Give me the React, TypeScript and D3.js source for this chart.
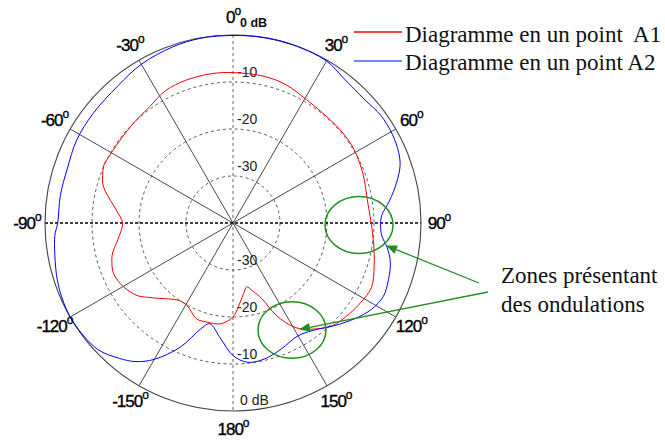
import React from "react";
import * as d3 from "d3";

// ---- Data (angle in degrees clockwise from top, level in dB) ----
const A1_ANGLES = [0, 12, 21, 30, 39, 48, 57, 65, 72, 80, 90, 98, 107, 115, 122, 128, 136, 142, 149, 155, 159, 164, 168, 171, 175, 180, 187, 195, 201, 209, 215, 224, 229, 233, 240, 247, 252, 256, 262, 270, 276, 284, 287, 290, 294, 297, 306, 315, 324, 333, 342, 352];
const A1_DB = [-8.0, -8.1, -8.5, -9.4, -9.8, -9.8, -9.8, -10.2, -10.6, -11.0, -10.6, -9.8, -8.6, -7.5, -8.0, -8.6, -9.6, -11.4, -14.0, -18.4, -22.7, -25.0, -26.1, -25.0, -23.0, -20.0, -18.4, -18.2, -18.2, -19.9, -19.9, -17.7, -15.9, -14.4, -13.0, -12.4, -12.9, -13.6, -15.3, -16.5, -15.1, -12.0, -11.0, -10.5, -9.9, -10.0, -10.2, -10.0, -9.6, -8.4, -8.0, -7.9];

const A2_ANGLES = [0, 10, 20, 30, 38, 47, 54, 61, 67, 71, 76, 82, 87, 91, 95, 99, 104, 110, 116, 122, 128, 135, 141, 150, 159, 167, 174, 180, 186, 193, 197, 203, 210, 215, 220, 227, 238, 245, 252, 260, 266, 270, 279, 288, 298, 308, 320, 330, 341, 350];
const A2_DB = [-0.1, 0, 0, -0.2, -1.3, -1.6, -1.1, -1.2, -1.7, -2.4, -4.1, -6.4, -8.3, -8.6, -8.2, -6.8, -5.5, -4.8, -4.4, -5.3, -7.0, -9.2, -11.0, -12.3, -11.3, -10.3, -10.2, -11.8, -15.2, -18.0, -16.4, -11.3, -6.5, -4.0, -2.4, -0.6, 0, -0.2, -0.7, -1.5, -2.0, -2.7, -2.8, -2.9, -2.35, -2.2, -1.9, -1.0, -0.4, -0.1];

const RING_DB = [-10, -20, -30];
const RING_LABELS = ["-10", "-20", "-30"];
const SPOKE_ANGLES = [0, 30, 60, 90, 120, 150, 180, 210, 240, 270, 300, 330];
const SPOKE_LABELS = ["0", "30", "60", "90", "120", "150", "180", "-150", "-120", "-90", "-60", "-30"];
const DB_DOMAIN = [-40, 0];
const LEGEND = ["Diagramme en un point  A1", "Diagramme en un point A2"];
const NOTE = ["Zones présentant", "des ondulations"];

const W = 665;
const H = 441;
const CX = 233;
const CY = 223;
const R = 188;

const toRad = (d: number) => (d * Math.PI) / 180;

export default function App() {
  const r = d3.scaleLinear().domain(DB_DOMAIN).range([0, R]).clamp(true);
  const pt = (deg: number, rad: number): [number, number] => [
    CX + rad * Math.sin(toRad(deg)),
    CY - rad * Math.cos(toRad(deg)),
  ];
  const line = d3
    .lineRadial<[number, number]>()
    .angle((d) => toRad(d[0]))
    .radius((d) => r(d[1]))
    .curve(d3.curveCatmullRomClosed.alpha(0.5));
  const a1 = A1_ANGLES.map((a, i) => [a, A1_DB[i]] as [number, number]);
  const a2 = A2_ANGLES.map((a, i) => [a, A2_DB[i]] as [number, number]);

  const green = "#1f8f1f";
  const sans = "Liberation Sans, Arial, sans-serif";
  const serif = "Liberation Serif";

  const arrows = [
    { x1: 479, y1: 283, x2: 386, y2: 245.5 },
    { x1: 488, y1: 292, x2: 299, y2: 329.5 },
  ];

  return (
    <svg
      width={W}
      height={H}
      style={{ position: "absolute", left: 0, top: 0, background: "#fff" }}
    >
      <rect x={0} y={0} width={W} height={H} fill="#fff" />
      {RING_DB.map((db) => (
        <circle
          key={db}
          cx={CX}
          cy={CY}
          r={r(db)}
          fill="none"
          stroke="#444"
          strokeWidth={0.9}
          strokeDasharray="3,3"
        />
      ))}
      {SPOKE_ANGLES.filter((a) => a % 90 !== 0).map((a) => {
        const [x, y] = pt(a, R);
        return <line key={a} x1={CX} y1={CY} x2={x} y2={y} stroke="#333" strokeWidth={0.9} />;
      })}
      <line x1={CX} y1={CY - R} x2={CX} y2={CY + R} stroke="#666" strokeWidth={1} strokeDasharray="3,3" />
      <line x1={CX - R} y1={CY} x2={CX + R} y2={CY} stroke="#000" strokeWidth={1.3} strokeDasharray="3,2" />
      <circle cx={CX} cy={CY} r={R} fill="none" stroke="#444" strokeWidth={1.1} />

      {RING_DB.map((db, i) => (
        <g key={"rl" + db} fontFamily={sans} fontSize={14} fill="#222">
          <text x={CX + 4} y={CY - r(db) - 5}>{RING_LABELS[i]}</text>
          <text x={CX + 4} y={CY + r(db) - 5}>{RING_LABELS[i]}</text>
        </g>
      ))}
      <text x={CX + 7} y={CY - R - 8} fontFamily={sans} fontSize={12.5} fontWeight="bold" fill="#111">0 dB</text>
      <text x={CX + 7} y={CY + R - 6} fontFamily={sans} fontSize={14} fill="#222">0 dB</text>

      <path d={line(a1) || ""} transform={`translate(${CX},${CY})`} fill="none" stroke="#ff0000" strokeWidth={1} />
      <path d={line(a2) || ""} transform={`translate(${CX},${CY})`} fill="none" stroke="#0000ff" strokeWidth={1} />

      {SPOKE_ANGLES.map((a, i) => {
        const [x, y] = pt(a, R + 18);
        return (
          <text
            key={"al" + a}
            x={x}
            y={y + 6}
            textAnchor="middle"
            fontFamily={sans}
            fontSize={17}
            letterSpacing={-1}
            fill="#000"
            stroke="#000"
            strokeWidth={0.35}
          >
            {SPOKE_LABELS[i]}
            <tspan fontSize={12} dy={-8}>o</tspan>
          </text>
        );
      })}

      <line x1={354} y1={32} x2={402} y2={32} stroke="#ff0000" strokeWidth={1.5} />
      <line x1={354} y1={61} x2={402} y2={61} stroke="#4060ff" strokeWidth={1.5} />
      <text x={405} y={42} fontFamily={serif} fontSize={23} fill="#111" xmlSpace="preserve">{LEGEND[0]}</text>
      <text x={405} y={70} fontFamily={serif} fontSize={23} fill="#111">{LEGEND[1]}</text>

      <ellipse cx={359} cy={225} rx={34} ry={28.5} fill="none" stroke={green} strokeWidth={1.5} />
      <ellipse cx={292} cy={330} rx={34} ry={28.3} fill="none" stroke={green} strokeWidth={1.5} />
      {arrows.map((a, i) => {
        const ang = Math.atan2(a.y2 - a.y1, a.x2 - a.x1);
        const L = 11;
        const Wd = 4.5;
        const bx = a.x2 - L * Math.cos(ang);
        const by = a.y2 - L * Math.sin(ang);
        const p1 = [bx + Wd * Math.sin(ang), by - Wd * Math.cos(ang)];
        const p2 = [bx - Wd * Math.sin(ang), by + Wd * Math.cos(ang)];
        return (
          <g key={"ar" + i}>
            <line x1={a.x1} y1={a.y1} x2={bx} y2={by} stroke={green} strokeWidth={1.3} />
            <polygon points={`${a.x2},${a.y2} ${p1[0]},${p1[1]} ${p2[0]},${p2[1]}`} fill={green} />
          </g>
        );
      })}
      <text x={501} y={283} fontFamily={serif} fontSize={23} fill="#111">{NOTE[0]}</text>
      <text x={501} y={312} fontFamily={serif} fontSize={23} fill="#111">{NOTE[1]}</text>
    </svg>
  );
}
